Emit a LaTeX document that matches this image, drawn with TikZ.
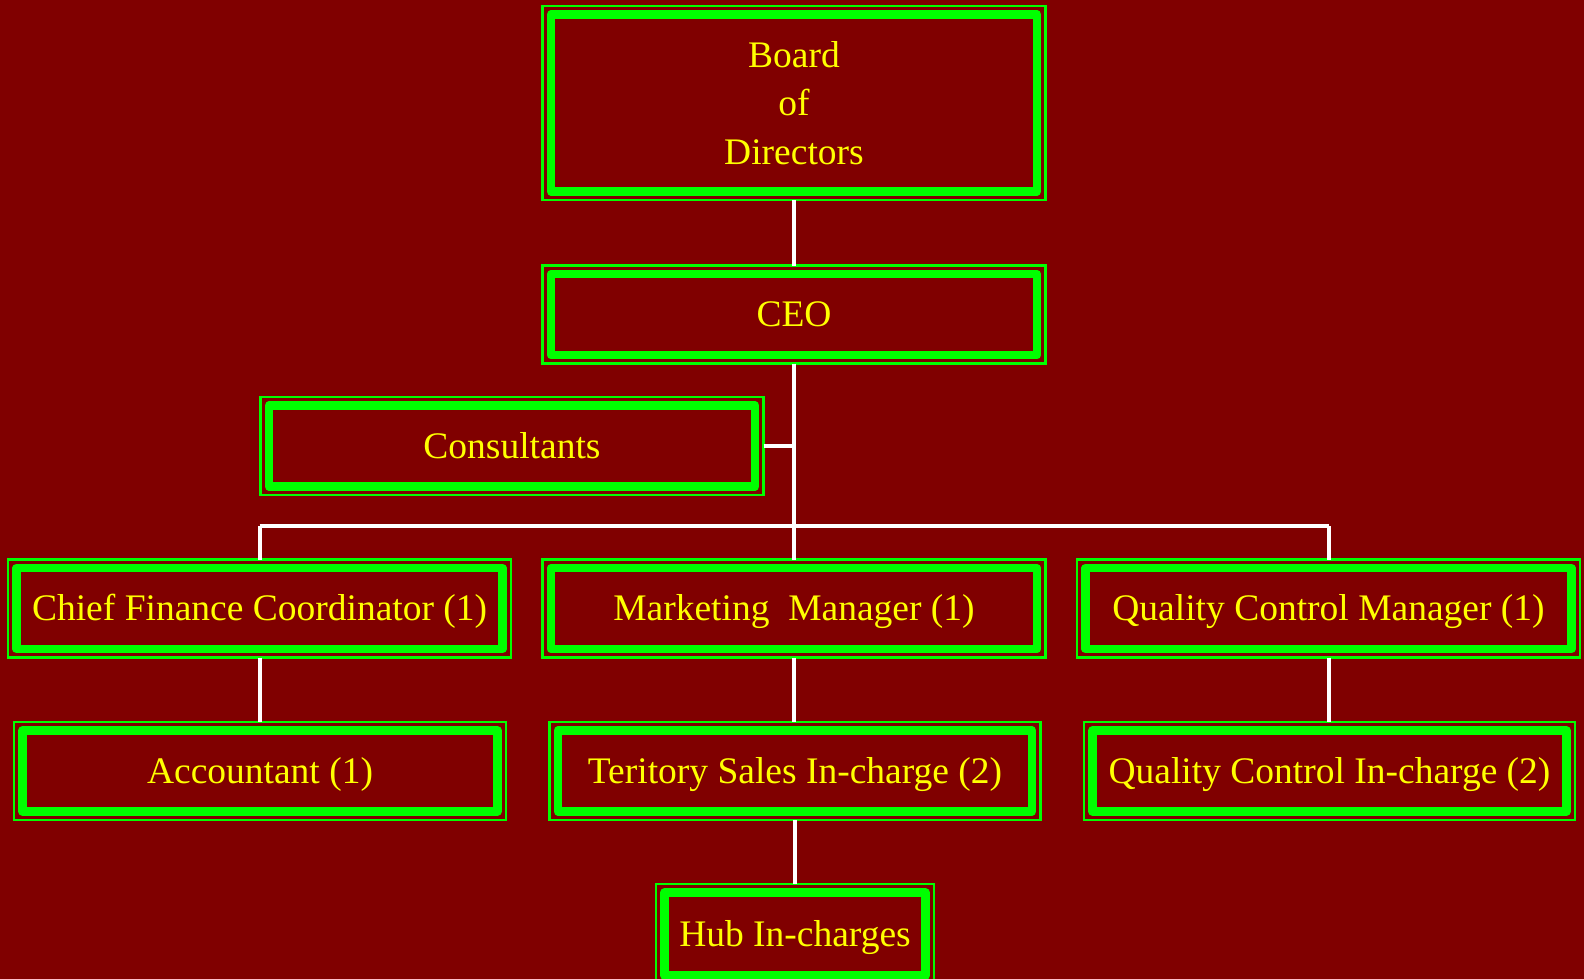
\documentclass[tikz,border=0pt]{standalone}
\usepackage{fontspec}
\setmainfont{Liberation Serif}
\definecolor{bg}{HTML}{800000}
\definecolor{grn}{HTML}{00FF00}
\definecolor{yel}{HTML}{FFFF00}
\begin{document}
\begin{tikzpicture}[x=1pt,y=-1pt,
  box/.style={draw=grn, line width=2.5pt, inner sep=0pt, outer sep=0pt,
    text=yel, font=\fontsize{37.5}{48.5}\selectfont, align=center,
    minimum width=503pt, minimum height=98pt},
  one/.style={text height=30pt, text depth=6pt},
  innerbox/.style={draw=grn, line width=8.5pt, line join=round},
  link/.style={draw=white, line width=4pt}]
\clip (0,0) rectangle (1584,979);
\fill[bg] (0,0) rectangle (1584,979);
\node[box, minimum height=194pt] (board) at (794,103) {Board\\of\\Directors};
\node[box, one] (ceo) at (794,314.7) {CEO};
\node[box, one] (cons) at (512,446) {Consultants};
\node[box, one] (chief) at (259.6,608.6) {Chief Finance Coordinator (1)};
\node[box, one] (mkt) at (794,608.6) {Marketing\ \ Manager (1)};
\node[box, one] (qcm) at (1328.5,608.6) {Quality Control Manager (1)};
\node[box, one, minimum width=492pt] (acc) at (260,771) {Accountant (1)};
\node[box, one, minimum width=491pt] (tsi) at (795,771) {Teritory Sales In-charge (2)};
\node[box, one, minimum width=491pt] (qci) at (1329.5,771) {Quality Control In-charge (2)};
\node[box, one, minimum width=278pt, minimum height=100pt] (hub) at (795,934) {Hub In-charges};
\foreach \n in {board,ceo,cons,chief,mkt,qcm,acc,tsi,qci,hub}
  \draw[innerbox] ([xshift=8.5pt,yshift=-8.5pt]\n.north west) rectangle ([xshift=-8.5pt,yshift=8.5pt]\n.south east);
\coordinate (bus) at (794,526);
\coordinate (busL) at (chief.north |- bus);
\coordinate (busR) at (qcm.north |- bus);
\draw[link] (board.south) -- (ceo.north);
\draw[link] (ceo.south) -- (mkt.north);
\draw[link] (cons.east) -- (cons.east -| ceo.south);
\draw[link] (busL) -- (busR);
\draw[link] (busL) -- (chief.north);
\draw[link] (busR) -- (qcm.north);
\draw[link] (chief.south) -- (chief.south |- acc.north);
\draw[link] (mkt.south) -- (mkt.south |- tsi.north);
\draw[link] (tsi.south) -- (tsi.south |- hub.north);
\draw[link] (qcm.south) -- (qcm.south |- qci.north);
\end{tikzpicture}
\end{document}
